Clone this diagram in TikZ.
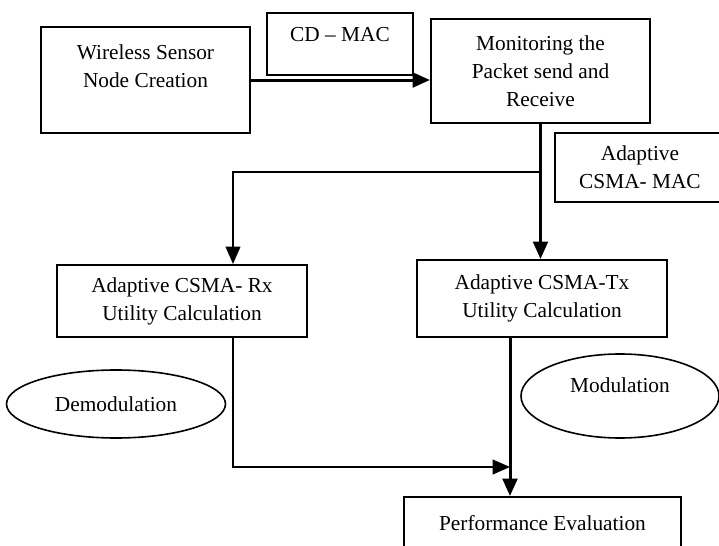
\documentclass[tikz,border=0pt]{standalone}
\usepackage{fontspec}
\setmainfont{Liberation Serif}
\usetikzlibrary{arrows.meta,shapes.geometric}

\tikzset{every picture/.style={line width=0.75pt}}
\tikzset{
  blockbox/.style={draw, line width=1.5pt, align=center, inner sep=0.75pt, font=\fontsize{16}{21}\selectfont},
  ovalbox/.style={draw, ellipse, line width=1.2pt, inner sep=0.75pt, font=\fontsize{16}{21}\selectfont},
  flowarrow/.style={line width=2.25pt, -{Triangle[length=13pt,width=11pt]}},
  thinflow/.style={line width=1.5pt}
}

\begin{document}
\begin{tikzpicture}[x=0.75pt,y=0.75pt,yscale=-1,xscale=1]
\useasboundingbox (0,0) rectangle (719,546);

%Shape: Rectangle [wsn]
\node[blockbox, minimum width=156.75pt, minimum height=79.5pt] (wsn) at (145.5,80) {Wireless Sensor\\Node Creation\\~};
%Shape: Rectangle [cdmac]
\node[blockbox, minimum width=109.5pt, minimum height=46.5pt, text depth=14pt] (cdmac) at (340,44) {CD -- MAC};
%Shape: Rectangle [mon]
\node[blockbox, minimum width=164.25pt, minimum height=78pt] (mon) at (540.5,71) {Monitoring the\\Packet send and\\Receive};
%Shape: Rectangle [csma]
\node[blockbox, minimum width=127.5pt, minimum height=51.75pt] (csma) at (640,167.5) {Adaptive\\CSMA- MAC};
%Shape: Rectangle [rx]
\node[blockbox, minimum width=187.5pt, minimum height=54pt] (rx) at (182,301) {Adaptive CSMA- Rx\\Utility Calculation};
%Shape: Rectangle [tx]
\node[blockbox, minimum width=187.5pt, minimum height=57.75pt] (tx) at (542,298.5) {Adaptive CSMA-Tx\\Utility Calculation};
%Shape: Ellipse [demod]
\node[ovalbox, minimum width=164.25pt, minimum height=51pt] (demod) at (116,404) {Demodulation};
%Shape: Ellipse [mod]
\node[ovalbox, minimum width=148.5pt, minimum height=63pt, text depth=17pt] (mod) at (620,396) {Modulation};
%Shape: Rectangle [perf]
\node[blockbox, minimum width=207.75pt, minimum height=39.75pt] (perf) at (542.5,523.5) {Performance Evaluation};

% branch points
\coordinate (split) at (540.5,172);
\coordinate (rxcol) at (233,265);
\coordinate (join) at (510,467);

%Straight Lines
\draw[flowarrow] (wsn.east) -- (wsn.east -| mon.west);
\draw[flowarrow] (mon.south) -- (mon.south |- tx.north);
\draw[flowarrow, thinflow] (split) -| (rxcol |- rx.north);
\draw[flowarrow, thinflow] (rxcol |- rx.south) |- (join);
\draw[flowarrow] (join |- tx.south) -- (join |- perf.north);

\end{tikzpicture}
\end{document}
